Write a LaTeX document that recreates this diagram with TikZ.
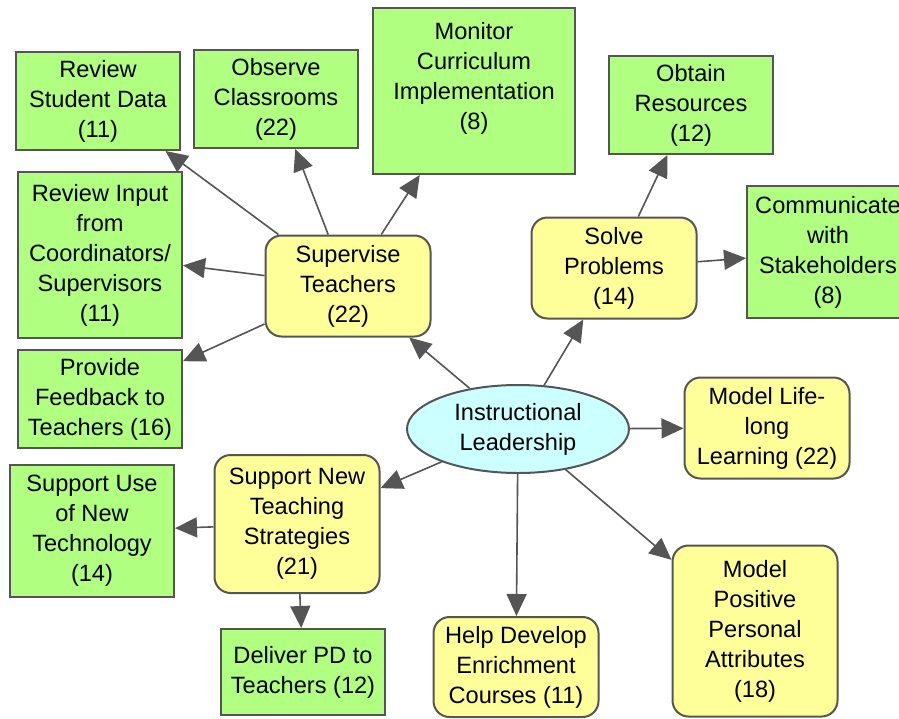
\documentclass[tikz,border=0pt]{standalone}
\usepackage{fontspec}
\setmainfont{Liberation Sans}
\usepackage{xcolor}
\usetikzlibrary{shapes.geometric, arrows.meta, positioning, calc}

\definecolor{edgegray}{RGB}{85,85,85}
\definecolor{leafgreen}{RGB}{176,255,128}
\definecolor{taskyellow}{RGB}{255,255,153}
\definecolor{corecyan}{RGB}{204,255,255}

\tikzset{
  leaf/.style={draw=edgegray, fill=leafgreen, line width=1pt, align=center, minimum width=82pt, inner sep=2pt},
  task/.style={draw=edgegray, fill=taskyellow, line width=1pt, rounded corners=8pt, align=center, minimum width=82.5pt, inner sep=2pt},
  core/.style={ellipse, draw=edgegray, fill=corecyan, line width=1pt, align=center, minimum width=111pt, minimum height=44pt, inner sep=1pt},
  link/.style={draw=edgegray, line width=0.8pt, -{Triangle[length=11pt, width=10pt]}}
}

\begin{document}
\begin{tikzpicture}[x=0.5pt, y=-0.5pt, font=\fontsize{11.8}{15}\selectfont]
		\useasboundingbox (0,0) rectangle (899,718);

		% Centre
		\node[core] (IL) at (518,429) {Instructional\\Leadership};

		% Second level
		\node[task, minimum height=50.5pt] (ST) at (348,286) {Supervise\\Teachers\\(22)};
		\node[task, minimum height=50.5pt] (SP) at (614,268) {Solve\\Problems\\(14)};
		\node[task, minimum height=50.5pt] (MLL) at (767,428) {Model Life-\\long\\Learning (22)};
		\node[task, minimum height=69pt] (SNTS) at (297,524) {Support New\\Teaching\\Strategies\\(21)};
		\node[task, minimum height=50pt] (HDE) at (516,667) {Help Develop\\Enrichment\\Courses (11)};
		\node[task, minimum height=85.5pt] (MPA) at (755,631) {Model\\Positive\\Personal\\Attributes\\(18)};

		% Leaves
		\node[leaf, minimum height=49pt] (RSD) at (98,101) {Review\\Student Data\\(11)};
		\node[leaf, minimum height=49pt] (OC) at (276,99) {Observe\\Classrooms\\(22)};
		\node[leaf, minimum width=101pt, minimum height=83pt] (MCI) at (474,91) {Monitor\\Curriculum\\Implementation\\(8)\\\mbox{}};
		\node[leaf, minimum height=83pt] (RIC) at (100,255) {Review Input\\from\\Coordinators/\\Supervisors\\(11)};
		\node[leaf, minimum height=49pt] (PFT) at (100,399) {Provide\\Feedback to\\Teachers (16)};
		\node[leaf, minimum height=49pt] (OR) at (691,105) {Obtain\\Resources\\(12)};
		\node[leaf, minimum width=81pt, minimum height=66pt] (CWS) at (828,252) {Communicate\\with\\Stakeholders\\(8)};
		\node[leaf, minimum height=66pt] (SUT) at (92,531) {Support Use\\of New\\Technology\\(14)};
		\node[leaf, minimum height=43pt] (DPD) at (303,672) {Deliver PD to\\Teachers (12)};

		\draw[link] (IL) -- (ST);
		\draw[link] (IL) -- (SP);
		\draw[link] (IL) -- (MLL);
		\draw[link] (IL) -- (SNTS);
		\draw[link] (IL) -- (HDE);
		\draw[link] (IL) -- (MPA);

		\draw[link] (ST) -- (RSD);
		\draw[link] (ST) -- (OC);
		\draw[link] (ST) -- (MCI);
		\draw[link] (ST) -- (RIC);
		\draw[link] (ST) -- (PFT);

		\draw[link] (SP) -- (OR);
		\draw[link] (SP) -- (CWS);

		\draw[link] (SNTS) -- (SUT);
		\draw[link] (SNTS) -- (DPD);
	  \end{tikzpicture}
\end{document}
